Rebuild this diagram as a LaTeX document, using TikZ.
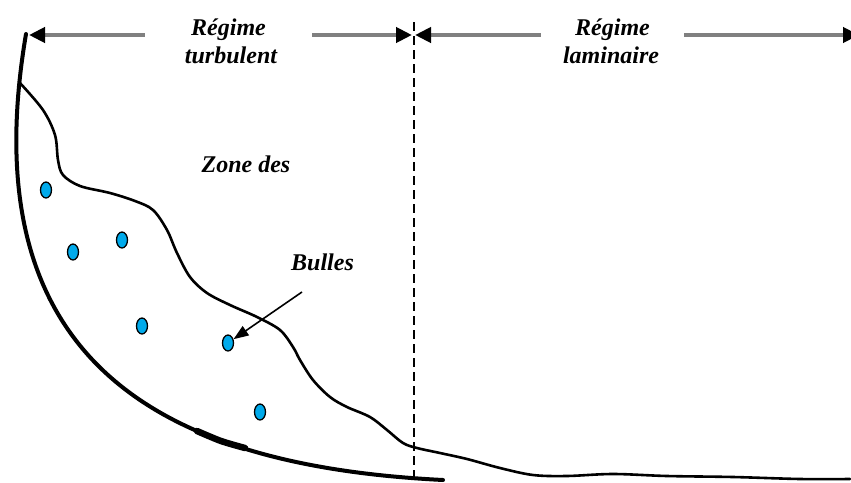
\documentclass[tikz,border=0pt]{standalone}
\usepackage{fontspec}
\setmainfont{Liberation Serif}
\usetikzlibrary{arrows.meta,shapes.geometric}
\definecolor{bubble}{RGB}{0,170,235}
\definecolor{rule}{RGB}{128,128,128}
\tikzset{
  lbl/.style={font=\fontsize{24}{28}\selectfont\bfseries\itshape, inner sep=0pt, anchor=base},
  span/.style={draw=rule, line width=4pt, -{Triangle[length=16pt,width=15pt,black]}},
  wall/.style={line width=4pt, line cap=round, line join=round},
  interface/.style={line width=2.6pt, line cap=round},
  divider/.style={line width=2pt, dash pattern=on 9pt off 5pt},
  bubbledot/.style={ellipse, draw=black, fill=bubble, line width=1.3pt, minimum width=11pt, minimum height=16pt, inner sep=0pt},
  pointer/.style={line width=1.6pt, -{Triangle[length=15pt,width=11pt]}}
}
\begin{document}
\begin{tikzpicture}[x=1pt,y=-1pt]
\path[use as bounding box] (0,0) rectangle (851,482);

% regime labels on the top scale
\node[lbl, inner xsep=46pt] (turbA) at (228.5,35) {Régime};
\node[lbl] (turbB) at (231,63) {turbulent};
\node[lbl, inner xsep=34pt] (lamA) at (612.5,35) {Régime};
\node[lbl] (lamB) at (611,63) {laminaire};

% scale end points
\coordinate (tipL) at (29,35);
\coordinate (tipM1) at (412,35);
\coordinate (tipM2) at (415,35);
\coordinate (tipR) at (859,35);

\draw[span] (turbA.base west) -- (tipL);
\draw[span] (turbA.base east) -- (tipM1);
\draw[span] (lamA.base west) -- (tipM2);
\draw[span] (lamA.base east) -- (tipR);

% boundary between the two regimes
\coordinate (divTop) at (413.5,22);
\coordinate (divBot) at (413.5,484);
\draw[divider] (divTop) -- (divBot);

% curved wall
\draw[wall] (26,34) .. controls (-30,364) and (163,466) .. (443,480);
\draw[line width=6.5pt, line cap=round] plot[smooth] coordinates {(197,431) (221,441) (245,448)};

% interface of the bubble zone
\draw[interface] plot[smooth, tension=0.55] coordinates {
  (20,83) (43,110) (55,135) (58,160) (63,175) (80,186) (110,193) (135,201)
  (153,210) (167,230) (177,253) (190,277) (207,293) (230,305) (257,317)
  (280,330) (293,347) (300,360) (313,380) (330,397) (347,407) (370,417)
  (387,430) (403,443) (417,448) (440,453) (467,459) (500,468) (533,475)
  (567,476) (613,474) (667,476) (733,477) (800,479) (850,479)};

% bubbles
\node[bubbledot] (b1) at (46,190) {};
\node[bubbledot] (b2) at (73,252) {};
\node[bubbledot] (b3) at (122,240) {};
\node[bubbledot] (b4) at (142,326) {};
\node[bubbledot] (b5) at (228,343) {};
\node[bubbledot] (b6) at (260,412) {};

% labels in the zone
\node[lbl] (zone) at (246,172) {Zone des};
\node[lbl] (bulles) at (322.5,270) {Bulles};
\coordinate (pStart) at (302,292);
\draw[pointer] (pStart) -- (b5);
\end{tikzpicture}
\end{document}
